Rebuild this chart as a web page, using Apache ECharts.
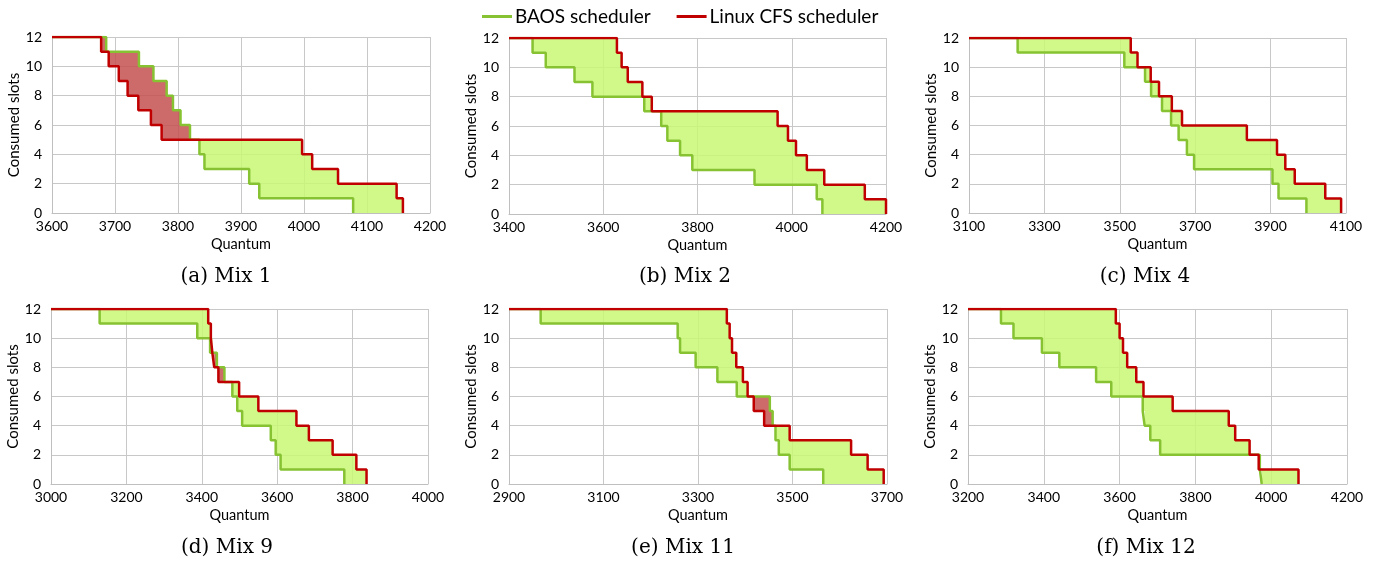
<!DOCTYPE html>
<html lang="en">
<head>
    <meta charset="utf-8">
    <title>BAOS vs Linux CFS</title>
    <style>
        html, body { margin: 0; padding: 0; background: #fff; overflow: hidden; }
        #chart-container { width: 1375px; height: 565px; }
    </style>
</head>
<body>
	<div id="chart-container"></div>

	<script type="text/javascript" src="https://cdn.jsdelivr.net/npm/echarts@6/dist/echarts.min.js"></script>
	<script type="text/javascript">
		// captions and x ranges of the six panels
		var mixNames = ['(a) Mix 1', '(b) Mix 2', '(c) Mix 4', '(d) Mix 9', '(e) Mix 11', '(f) Mix 12'];
		var quantumMin = [3600, 3400, 3100, 3000, 2900, 3200];
		var quantumMax = [4200, 4200, 4100, 4000, 3700, 4200];
		var quantumStep = [100, 200, 200, 200, 200, 200];
		var slotTicks = [0, 2, 4, 6, 8, 10, 12];
		var totalSlots = 12;

		// quantum at which each slot is released: 12->11, 11->10, ... 1->0
		var baosMix1 = [3686, 3738, 3761, 3782, 3792, 3804, 3819, 3834, 3842, 3913, 3929, 4078];
		var cfsMix1  = [3678, 3690, 3706, 3720, 3737, 3757, 3774, 3997, 4013, 4054, 4147, 4157];
		var baosMix2 = [3450, 3478, 3539, 3577, 3687, 3723, 3736, 3763, 3789, 3921, 4053, 4065];
		var cfsMix2  = [3629, 3639, 3652, 3683, 3703, 3970, 3992, 4009, 4032, 4069, 4155, 4200];
		var baosMix4 = [3229, 3512, 3567, 3583, 3612, 3636, 3656, 3678, 3697, 3905, 3921, 3995];
		var cfsMix4  = [3529, 3547, 3582, 3604, 3638, 3665, 3837, 3917, 3939, 3964, 4045, 4087];
		var baosMix9 = [3129, 3388, 3422, 3440, 3460, 3481, 3494, 3507, 3583, 3596, 3609, 3778];
		var cfsMix9  = [3417, 3424, 3428, 3433, 3444, 3499, 3550, 3651, 3684, 3747, 3810, 3837];
		var baosMix11 = [2967, 3257, 3262, 3295, 3341, 3382, 3452, 3458, 3464, 3471, 3494, 3565];
		var cfsMix11  = [3361, 3367, 3372, 3381, 3395, 3405, 3418, 3440, 3494, 3624, 3659, 3693];
		var baosMix12 = [3287, 3320, 3395, 3441, 3538, 3578, 3661, 3666, 3681, 3707, 3970, 3975];
		var cfsMix12  = [3590, 3600, 3609, 3620, 3644, 3663, 3740, 3888, 3905, 3943, 3967, 4072];

		var baosDrops = [baosMix1, baosMix2, baosMix4, baosMix9, baosMix11, baosMix12];
		var cfsDrops  = [cfsMix1, cfsMix2, cfsMix4, cfsMix9, cfsMix11, cfsMix12];

		// plot areas, matched to the original figure
		var panels = [
			{ left: 52,  top: 37,  width: 378, height: 176, cx: 226 },
			{ left: 509, top: 38,  width: 377, height: 176, cx: 685 },
			{ left: 969, top: 38,  width: 377, height: 175, cx: 1145 },
			{ left: 51,  top: 309, width: 377, height: 175, cx: 227 },
			{ left: 509, top: 309, width: 378, height: 175, cx: 683 },
			{ left: 968, top: 309, width: 379, height: 175, cx: 1146 }
		];

		var baosColor = '#86c232';
		var cfsColor = '#c00000';
		var gainFill = 'rgba(200, 248, 118, 0.85)';
		var lossFill = 'rgba(196, 80, 80, 0.85)';
		var labelFont = 'Lato';

		function stepPoints(start, drops) {
			var pts = [[start, totalSlots]];
			drops.forEach(function (x, i) {
				pts.push([x, totalSlots - 1 - i]);
			});
			return pts;
		}

		function levelAt(drops, x) {
			var n = 0;
			for (var i = 0; i < drops.length; i++) {
				if (drops[i] <= x) n++;
			}
			return totalSlots - n;
		}

		// regions between the two curves, one polygon per run of same sign
		function buildRuns(start, baos, cfs) {
			var xs = [start].concat(baos, cfs);
			xs = xs.filter(function (v, i) { return xs.indexOf(v) === i; }).sort(function (a, b) { return a - b; });
			var runs = [];
			var cur = null;
			for (var k = 0; k < xs.length - 1; k++) {
				var mid = (xs[k] + xs[k + 1]) / 2;
				var b = levelAt(baos, mid);
				var c = levelAt(cfs, mid);
				var sign = c > b ? 1 : (b > c ? -1 : 0);
				if (sign === 0) { cur = null; continue; }
				if (!cur || cur.sign !== sign) {
					cur = { sign: sign, parts: [] };
					runs.push(cur);
				}
				cur.parts.push({ x0: xs[k], x1: xs[k + 1], lo: Math.min(b, c), hi: Math.max(b, c) });
			}
			runs.forEach(function (r) {
				var top = [], bottom = [];
				r.parts.forEach(function (p) {
					top.push([p.x0, p.hi], [p.x1, p.hi]);
				});
				r.parts.slice().reverse().forEach(function (p) {
					bottom.push([p.x1, p.lo], [p.x0, p.lo]);
				});
				r.points = top.concat(bottom);
			});
			return runs;
		}

		var chartDom = document.getElementById('chart-container');
		var myChart = echarts.init(chartDom);

		var grids = [], xAxes = [], yAxes = [], series = [], graphics = [];

		panels.forEach(function (p, i) {
			grids.push({ left: p.left, top: p.top, width: p.width, height: p.height, containLabel: false });

			xAxes.push({
				type: 'value',
				gridIndex: i,
				min: quantumMin[i],
				max: quantumMax[i],
				interval: quantumStep[i],
				name: 'Quantum',
				nameLocation: 'middle',
				nameGap: 24,
				nameTextStyle: { fontFamily: labelFont, fontSize: 14.5, color: '#000' },
				axisLine: { show: true, lineStyle: { color: '#bfbfbf', width: 1 } },
				axisTick: { show: false },
				axisLabel: {
					margin: 6, fontFamily: labelFont, fontSize: 14, color: '#000',
					formatter: function (v) { return String(v); }
				},
				splitLine: { show: true, lineStyle: { color: '#c8c8c8', width: 1 } }
			});

			yAxes.push({
				type: 'value',
				gridIndex: i,
				min: slotTicks[0],
				max: slotTicks[slotTicks.length - 1],
				interval: 2,
				name: 'Consumed slots',
				nameLocation: 'middle',
				nameGap: 28,
				nameTextStyle: { fontFamily: labelFont, fontSize: 15, color: '#000' },
				axisLine: { show: true, lineStyle: { color: '#bfbfbf', width: 1 } },
				axisTick: { show: false },
				axisLabel: { margin: 10, fontFamily: labelFont, fontSize: 14, color: '#000' },
				splitLine: { show: true, lineStyle: { color: '#c8c8c8', width: 1 } }
			});

			var runs = buildRuns(quantumMin[i], baosDrops[i], cfsDrops[i]);

			series.push({
				type: 'custom',
				xAxisIndex: i,
				yAxisIndex: i,
				silent: true,
				z: 1,
				data: runs.map(function (r, k) { return [r.points[0][0], r.points[0][1], k]; }),
				renderItem: (function (runList) {
					return function (params, api) {
						var run = runList[api.value(2)];
						var pts = run.points.map(function (pt) { return api.coord(pt); });
						return {
							type: 'polygon',
							shape: { points: pts },
							style: { fill: run.sign > 0 ? gainFill : lossFill, stroke: null }
						};
					};
				})(runs)
			});

			series.push({
				name: 'BAOS scheduler',
				type: 'line',
				xAxisIndex: i,
				yAxisIndex: i,
				step: 'end',
				showSymbol: false,
				symbol: 'none',
				z: 3,
				lineStyle: { color: baosColor, width: 2.5 },
				itemStyle: { color: baosColor },
				data: stepPoints(quantumMin[i], baosDrops[i])
			});

			series.push({
				name: 'Linux CFS scheduler',
				type: 'line',
				xAxisIndex: i,
				yAxisIndex: i,
				step: 'end',
				showSymbol: false,
				symbol: 'none',
				z: 4,
				lineStyle: { color: cfsColor, width: 2.5 },
				itemStyle: { color: cfsColor },
				data: stepPoints(quantumMin[i], cfsDrops[i])
			});

			graphics.push({
				type: 'text',
				x: p.cx,
				y: i < 3 ? 277 : 548,
				style: {
					text: mixNames[i],
					fontFamily: 'DejaVu Serif',
					fontSize: 20,
					fill: '#000',
					textAlign: 'center',
					textVerticalAlign: 'middle'
				}
			});
		});

		var option = {
			animation: false,
			backgroundColor: '#fff',
			legend: {
				left: 477,
				top: 2,
				itemWidth: 30,
				itemHeight: 3,
				itemGap: 26,
				icon: 'rect',
				textStyle: { fontFamily: labelFont, fontSize: 19, color: '#000', padding: [0, 0, 0, -2] },
				data: ['BAOS scheduler', 'Linux CFS scheduler']
			},
			grid: grids,
			xAxis: xAxes,
			yAxis: yAxes,
			series: series,
			graphic: graphics
		};

		myChart.setOption(option);
	</script>
</body>
</html>
